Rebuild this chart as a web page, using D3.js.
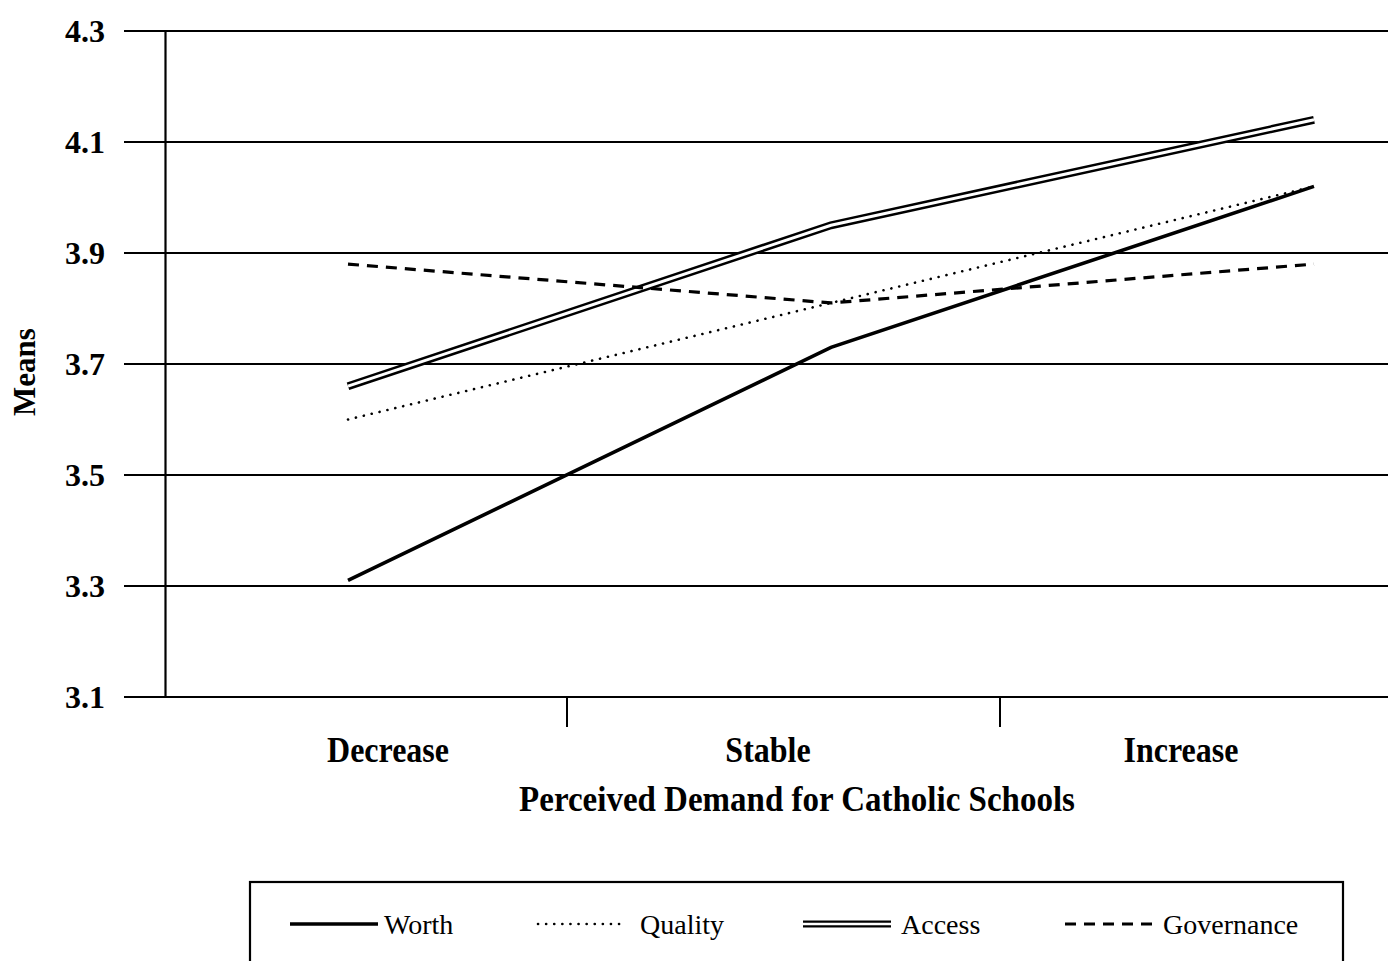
<!DOCTYPE html>
<html>
<head>
<meta charset="utf-8">
<script src="https://cdn.jsdelivr.net/npm/d3@7"></script>
<style>
  body { margin: 0; background: #fff; }
  svg { display: block; font-family: 'Liberation Serif', 'Times New Roman', serif; }
</style>
</head>
<body>
<div id="root"></div>
<script>
// Data
const categories = ['Decrease', 'Stable', 'Increase'];
const worth = [3.31, 3.73, 4.02];
const quality = [3.60, 3.81, 4.02];
const access = [3.66, 3.95, 4.14];
const governance = [3.88, 3.81, 3.88];
const yTicks = [3.1, 3.3, 3.5, 3.7, 3.9, 4.1, 4.3];
const seriesNames = ['Worth', 'Quality', 'Access', 'Governance'];

const root = document.getElementById('root');
const width = 1388;
const height = 961;

const svg = d3.select(root)
    .append('svg')
    .attr('width', width)
    .attr('height', height);

// Scales
const y = d3.scaleLinear()
    .domain([3.1, 4.3])
    .range([697, 31]);

const x = d3.scalePoint()
    .domain(categories)
    .range([348, 1314]);

// band scale for the category ticks under the axis
const xBand = d3.scaleBand()
    .domain(categories)
    .range([134, 1433]);

// label positions (not centred on the points in the original)
const xLabel = d3.scaleOrdinal()
    .domain(categories)
    .range([388, 768, 1181]);

const axisLeftX = 165;

// Gridlines
svg.append('g')
    .selectAll('line')
    .data(yTicks)
    .enter()
    .append('line')
    .attr('x1', 124)
    .attr('x2', width)
    .attr('y1', d => y(d))
    .attr('y2', d => y(d))
    .attr('stroke', '#000')
    .attr('stroke-width', 2.2);

// Y axis
const yAxis = d3.axisLeft(y).tickValues(yTicks).tickSize(0).tickPadding(0).tickFormat(d3.format('.1f'));
const yAxisG = svg.append('g')
    .attr('transform', `translate(${axisLeftX},0)`)
    .call(yAxis);
yAxisG.select('.domain').attr('stroke', '#000').attr('stroke-width', 2.2);
yAxisG.selectAll('text')
    .attr('x', 105 - axisLeftX)
    .attr('font-family', "'Liberation Serif', serif")
    .attr('font-weight', 'bold')
    .attr('font-size', '32px')
    .attr('fill', '#000');

// X ticks (between categories)
svg.append('g')
    .selectAll('line')
    .data(categories.slice(1))
    .enter()
    .append('line')
    .attr('x1', d => xBand(d))
    .attr('x2', d => xBand(d))
    .attr('y1', y(3.1))
    .attr('y2', y(3.1) + 30)
    .attr('stroke', '#000')
    .attr('stroke-width', 2);

// X category labels
svg.append('g')
    .selectAll('text')
    .data(categories)
    .enter()
    .append('text')
    .attr('text-anchor', 'middle')
    .attr('transform', d => `translate(${xLabel(d)},762)scale(1,1.1)`)
    .attr('font-weight', 'bold')
    .attr('font-size', '32px')
    .text(d => d);

// Axis titles
svg.append('text')
    .attr('text-anchor', 'middle')
    .attr('transform', 'translate(797,811)scale(1,1.1)')
    .attr('font-weight', 'bold')
    .attr('font-size', '33px')
    .text('Perceived Demand for Catholic Schools');

svg.append('text')
    .attr('text-anchor', 'middle')
    .attr('transform', `translate(35, 372)rotate(-90)`)
    .attr('font-weight', 'bold')
    .attr('font-size', '31px')
    .text('Means');

// Lines
const line = d3.line()
    .x((d, i) => x(categories[i]))
    .y(d => y(d));

const plot = svg.append('g');

// Access: double line (black wide + white core)
plot.append('path')
    .attr('d', line(access))
    .attr('fill', 'none')
    .attr('stroke', '#000')
    .attr('stroke-width', 8);
plot.append('path')
    .attr('d', line(access))
    .attr('fill', 'none')
    .attr('stroke', '#fff')
    .attr('stroke-width', 3);

plot.append('path')
    .attr('d', line(governance))
    .attr('fill', 'none')
    .attr('stroke', '#000')
    .attr('stroke-width', 3.2)
    .attr('stroke-dasharray', '11 8');

plot.append('path')
    .attr('d', line(quality))
    .attr('fill', 'none')
    .attr('stroke', '#000')
    .attr('stroke-width', 2.6)
    .attr('stroke-linecap', 'round')
    .attr('stroke-dasharray', '0.1 8');

plot.append('path')
    .attr('d', line(worth))
    .attr('fill', 'none')
    .attr('stroke', '#000')
    .attr('stroke-width', 3.6);

// Legend
svg.append('rect')
    .attr('x', 250)
    .attr('y', 882)
    .attr('width', 1093)
    .attr('height', 120)
    .attr('fill', 'none')
    .attr('stroke', '#000')
    .attr('stroke-width', 2.2);

const legendX = d3.scaleOrdinal()
    .domain(seriesNames)
    .range([290, 538, 803, 1065]);
const legendY = 924;
const swatch = 88;

const legend = svg.selectAll('.legend')
    .data(seriesNames)
    .enter()
    .append('g')
    .attr('class', 'legend')
    .attr('transform', d => `translate(${legendX(d)},${legendY})`);

legend.each(function (d) {
    const g = d3.select(this);
    if (d === 'Worth') {
        g.append('line').attr('x1', 0).attr('x2', swatch)
            .attr('stroke', '#000').attr('stroke-width', 3.6);
    } else if (d === 'Quality') {
        g.append('line').attr('x1', 0).attr('x2', swatch)
            .attr('stroke', '#000').attr('stroke-width', 2.6)
            .attr('stroke-linecap', 'round').attr('stroke-dasharray', '0.1 8');
    } else if (d === 'Access') {
        g.append('line').attr('x1', 0).attr('x2', swatch)
            .attr('stroke', '#000').attr('stroke-width', 7);
        g.append('line').attr('x1', -1).attr('x2', swatch + 1)
            .attr('stroke', '#fff').attr('stroke-width', 2.4);
    } else {
        g.append('line').attr('x1', 0).attr('x2', swatch)
            .attr('stroke', '#000').attr('stroke-width', 3)
            .attr('stroke-dasharray', '11 8');
    }
});

legend.append('text')
    .attr('x', d => swatch + (d === 'Quality' ? 14 : d === 'Worth' ? 6 : 10))
    .attr('y', 0)
    .attr('dy', '0.35em')
    .attr('font-size', '28px')
    .text(d => d);
</script>
</body>
</html>
